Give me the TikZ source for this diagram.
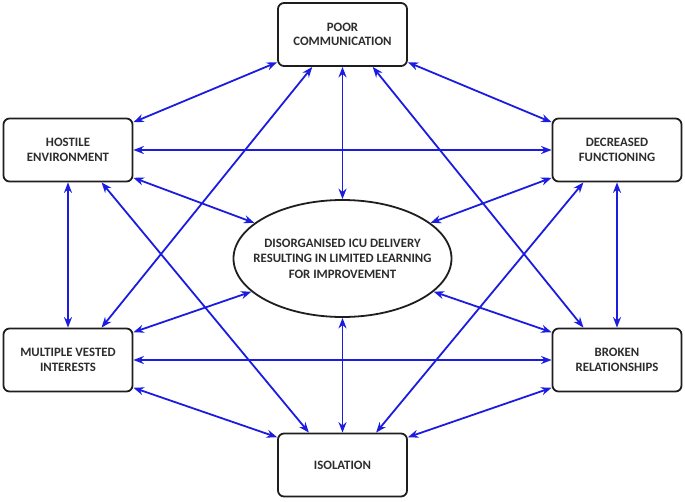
\documentclass[tikz,border=0pt]{standalone}
\usepackage{fontspec}
\setmainfont{Carlito}
\usetikzlibrary{arrows.meta,shapes.geometric}
\definecolor{linkblue}{RGB}{28,28,225}
\definecolor{boxline}{RGB}{30,30,30}
\definecolor{boxtext}{RGB}{45,45,45}

\begin{document}
\begin{tikzpicture}[x=1pt, y=-1pt,
    factor/.style={draw=boxline, line width=1.8pt, rounded corners=6pt, fill=white,
        minimum width=129pt, minimum height=63pt, inner sep=2pt, align=center,
        text=boxtext, font=\fontsize{12.8}{14.5}\selectfont\bfseries},
    hub/.style={ellipse, draw=boxline, line width=1.8pt, fill=white,
        minimum width=218pt, minimum height=117pt, inner xsep=-30pt, inner ysep=0pt,
        align=center, text=boxtext, font=\fontsize{12.8}{15.5}\selectfont\bfseries},
    link/.style={{Stealth[length=10.5pt,width=8pt]}-{Stealth[length=10.5pt,width=8pt]},
        draw=linkblue, line width=1.8pt}]
            \useasboundingbox (0,0) rectangle (685,501);

            % 六个因素框
            \node[factor] (poor) at (342.5,34.5) {POOR\\COMMUNICATION};
            \node[factor] (hostile) at (68,150) {HOSTILE\\ENVIRONMENT};
            \node[factor] (decreased) at (617,150) {DECREASED\\FUNCTIONING};
            \node[factor] (vested) at (68,360) {MULTIPLE VESTED\\INTERESTS};
            \node[factor] (broken) at (617,360) {BROKEN\\RELATIONSHIPS};
            \node[factor] (isolation) at (342.5,465) {ISOLATION};

            % 中心椭圆
            \node[hub] (core) at (342.5,258.5) {DISORGANISED ICU DELIVERY\\RESULTING IN LIMITED LEARNING\\FOR IMPROVEMENT};

            % 外圈连线
            \draw[link] (poor.-157) -- (hostile.23);
            \draw[link] (poor.-23) -- (decreased.157);
            \draw[link] (hostile.east) -- (decreased.west);
            \draw[link] (hostile.south) -- (vested.north);
            \draw[link] (decreased.south) -- (broken.north);
            \draw[link] (vested.east) -- (broken.west);
            \draw[link] (vested.-23) -- (isolation.157);
            \draw[link] (broken.-157) -- (isolation.23);

            % 对角长连线
            \draw[link] (poor.-133) -- (vested.44);
            \draw[link] (poor.-47) -- (broken.136);
            \draw[link] (hostile.-44) -- (isolation.136);
            \draw[link] (decreased.-136) -- (isolation.44);

            % 指向中心的连线
            \draw[link] (poor.south) -- (core.north);
            \draw[link] (isolation.north) -- (core.south);
            \draw[link] (hostile.-23) -- (core.158);
            \draw[link] (decreased.-157) -- (core.22);
            \draw[link] (vested.23) -- (core.-160);
            \draw[link] (broken.157) -- (core.-20);
        \end{tikzpicture}
\end{document}
